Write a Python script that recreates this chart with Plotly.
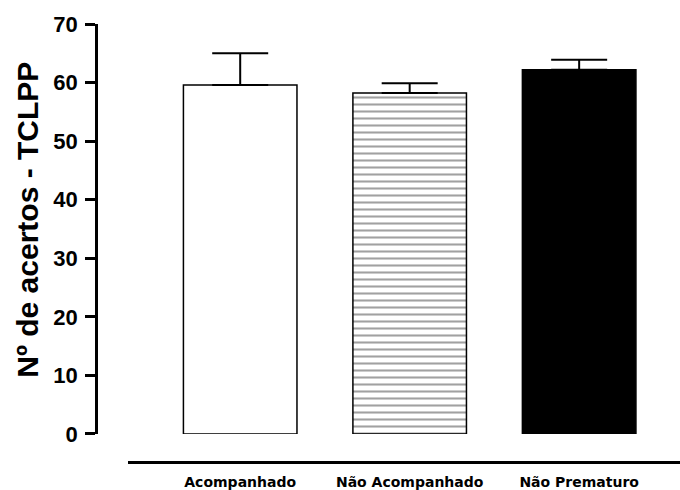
import plotly.graph_objects as go

categories = ["Acompanhado", "Não Acompanhado", "Não Prematuro"]
means = [59.6, 58.2, 62.2]
err_plus = [5.4, 1.7, 1.7]
y_ticks = [0, 10, 20, 30, 40, 50, 60, 70]
y_title = "Nº de acertos - TCLPP"

W, H = 680, 490
ML, MR, MT, MB = 96, 0, 24, 24
plot_w = W - ML - MR
plot_h = H - MT - MB

x_pos = list(range(len(categories)))

fig = go.Figure()
fig.add_trace(go.Bar(
    x=x_pos,
    y=means,
    width=0.67,
    marker=dict(
        color=["white", "white", "black"],
        line=dict(color="black", width=1.5),
        pattern=dict(
            shape=["", "-", ""],
            fgcolor="black",
            bgcolor=["white", "white", "black"],
            size=7,
            solidity=0.3,
            fillmode="overlay",
        ),
    ),
    error_y=dict(
        type="data",
        array=err_plus,
        arrayminus=[0] * len(err_plus),
        symmetric=False,
        color="black",
        thickness=2,
        width=28,
    ),
    showlegend=False,
))

fig.update_layout(
    width=W, height=H,
    margin=dict(l=ML, r=MR, t=MT, b=MB, pad=0),
    paper_bgcolor="white",
    plot_bgcolor="white",
    font=dict(family="Liberation Sans, Arial, sans-serif", color="black"),
    xaxis=dict(
        domain=[(128 - ML) / plot_w, 1],
        range=[-0.662, 2.595],
        tickmode="array",
        tickvals=x_pos,
        ticktext=categories,
        tickfont=dict(family="DejaVu Sans, sans-serif", size=14, weight="bold"),
        showline=True, linecolor="black", linewidth=2.5,
        ticks="", showgrid=False, zeroline=False,
        anchor="free", position=0,
        ticklabelstandoff=6,
    ),
    yaxis=dict(
        domain=[(H - MB - 437.7) / plot_h, 1],
        range=[0, 70],
        tickmode="array",
        tickvals=y_ticks,
        tickfont=dict(family="Liberation Sans, Arial, sans-serif", size=22, weight="bold"),
        showline=True, linecolor="black", linewidth=2.5,
        ticks="outside", ticklen=10, tickwidth=2.5, tickcolor="black",
        showgrid=False, zeroline=False,
        anchor="free", position=0,
        ticklabelstandoff=3,
    ),
    annotations=[dict(
        text=y_title,
        xref="paper", yref="paper",
        x=(28 - ML) / plot_w, y=(H - MB - 221.5) / plot_h,
        xanchor="center", yanchor="middle",
        textangle=-90, showarrow=False,
        font=dict(family="Liberation Sans, Arial, sans-serif", size=30, weight="bold", color="black"),
    )],
)

fig.write_html("out.html")
